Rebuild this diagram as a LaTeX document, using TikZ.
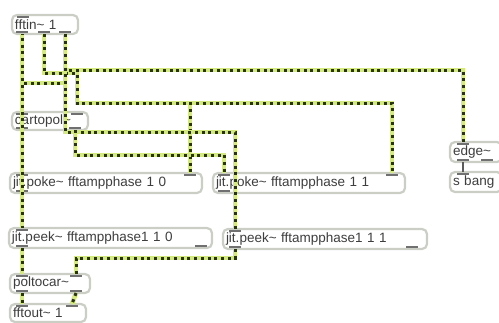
\documentclass[tikz,border=0pt]{standalone}
\usepackage{fontspec}
\setmainfont{Liberation Sans}
\definecolor{boxedge}{RGB}{202,206,196}
\definecolor{txt}{RGB}{62,62,62}
\definecolor{portc}{RGB}{112,112,112}
\definecolor{wirebase}{RGB}{212,234,128}
\definecolor{wiredot}{RGB}{40,52,14}
\tikzset{
  maxbox/.style={draw=boxedge, line width=2.2pt, rounded corners=5pt, fill=white,
    anchor=north west, outer sep=0pt, inner xsep=3pt, inner ysep=0pt,
    font=\fontsize{13.5}{14}\selectfont, text=txt, align=left},
  portbar/.style={draw=portc, line width=2pt},
  sigwire/.style={preaction={draw=wirebase, line width=4.8pt, solid},
    draw=wiredot, line width=3pt, dash pattern=on 3pt off 3.7pt},
  ctlwire/.style={draw=portc!80!black, line width=1.6pt},
}
\newcommand\pbar[2]{\draw[portbar] ([xshift=-6pt,yshift=#2]#1) -- ++(12,0);}
\begin{document}
\begin{tikzpicture}[x=1pt,y=-1pt]
\useasboundingbox (0,0) rectangle (499,322);
% boxes
\node[maxbox, text width=60pt, minimum height=19pt] (fftin) at (12,15) {fftin\textasciitilde{} 1};
\node[maxbox, text width=70pt, minimum height=18pt] (cartopol) at (12,112) {cartopol\textasciitilde};
\node[maxbox, text width=186pt, minimum height=20pt] (poke10) at (10,173) {jit.poke\textasciitilde{} fftampphase 1 0};
\node[maxbox, text width=186pt, minimum height=20pt] (poke11) at (213,173) {jit.poke\textasciitilde{} fftampphase 1 1};
\node[maxbox, text width=46pt, minimum height=20pt] (edge) at (450,142) {edge\textasciitilde};
\node[maxbox, text width=46pt, minimum height=20pt] (sbang) at (450,172) {s bang};
\node[maxbox, text width=197pt, minimum height=20pt] (peek10) at (9,228) {jit.peek\textasciitilde{} fftampphase1 1 0};
\node[maxbox, text width=198pt, minimum height=20pt] (peek11) at (223,229) {jit.peek\textasciitilde{} fftampphase1 1 1};
\node[maxbox, text width=74pt, minimum height=19pt] (poltocar) at (10,274) {poltocar\textasciitilde};
\node[maxbox, text width=70pt, minimum height=18pt] (fftout) at (10,304) {fftout\textasciitilde{} 1};
% ports
\coordinate (fftin-i1) at ([xshift=11pt]fftin.north west);
\coordinate (fftin-o1) at ([xshift=10pt]fftin.south west);
\coordinate (fftin-o2) at ([xshift=32pt]fftin.south west);
\coordinate (fftin-o3) at ([xshift=53pt]fftin.south west);
\coordinate (cartopol-i1) at ([xshift=10pt]cartopol.north west);
\coordinate (cartopol-i2) at ([xshift=65pt]cartopol.north west);
\coordinate (cartopol-o1) at ([xshift=10pt]cartopol.south west);
\coordinate (cartopol-o2) at ([xshift=63pt]cartopol.south west);
\coordinate (poke10-i1) at ([xshift=12pt]poke10.north west);
\coordinate (poke10-i2) at ([xshift=180pt]poke10.north west);
\coordinate (poke10-o1) at ([xshift=12pt]poke10.south west);
\coordinate (poke11-i1) at ([xshift=11pt]poke11.north west);
\coordinate (poke11-i2) at ([xshift=179pt]poke11.north west);
\coordinate (poke11-o1) at ([xshift=11pt]poke11.south west);
\coordinate (edge-i1) at ([xshift=13pt]edge.north west);
\coordinate (edge-o1) at ([xshift=13pt]edge.south west);
\coordinate (edge-o2) at ([xshift=37pt]edge.south west);
\coordinate (sbang-i1) at ([xshift=13pt]sbang.north west);
\coordinate (peek10-i1) at ([xshift=13pt]peek10.north west);
\coordinate (peek10-o1) at ([xshift=13pt]peek10.south west);
\coordinate (peek10-o2) at ([xshift=192pt]peek10.south west);
\coordinate (peek11-i1) at ([xshift=12pt]peek11.north west);
\coordinate (peek11-o1) at ([xshift=12pt]peek11.south west);
\coordinate (peek11-o2) at ([xshift=189pt]peek11.south west);
\coordinate (poltocar-i1) at ([xshift=12pt]poltocar.north west);
\coordinate (poltocar-i2) at ([xshift=66pt]poltocar.north west);
\coordinate (poltocar-o1) at ([xshift=12pt]poltocar.south west);
\coordinate (poltocar-o2) at ([xshift=66pt]poltocar.south west);
\coordinate (fftout-i1) at ([xshift=12pt]fftout.north west);
\coordinate (fftout-i2) at ([xshift=62pt]fftout.north west);
\foreach \p in {fftin-i1,cartopol-i1,cartopol-i2,poke10-i1,poke10-i2,poke11-i1,poke11-i2,edge-i1,sbang-i1,peek10-i1,peek11-i1,poltocar-i1,poltocar-i2,fftout-i1,fftout-i2}{\pbar{\p}{-1.6pt}}
\foreach \p in {fftin-o1,fftin-o2,fftin-o3,cartopol-o1,cartopol-o2,poke10-o1,poke11-o1,edge-o1,edge-o2,peek10-o1,peek10-o2,peek11-o1,peek11-o2,poltocar-o1,poltocar-o2}{\pbar{\p}{1.6pt}}
% wires
\draw[sigwire, dash phase=2.8pt] (fftin-o1) -- (cartopol-i1);
\draw[sigwire] (fftin-o2) -- (44,73) -- (77,73) -- (77,103) -- (392,103) -- (poke11-i2);
\draw[sigwire] (fftin-o2) -- (44,73) -- (77,73) -- (77,103) -- (190,103) -- (poke10-i2);
\draw[sigwire] (fftin-o3) -- (65,70) -- (463,70) -- (edge-i1);
\draw[sigwire] (fftin-o3) -- (65,83) -- (22,83) -- (peek10-i1);
\draw[sigwire] (fftin-o3) -- (65,132) -- (235,132) -- (peek11-i1);
\draw[sigwire, dash phase=5pt] (cartopol-o1) -- (poke10-i1);
\draw[sigwire] (cartopol-o2) -- (75,155) -- (224,155) -- (poke11-i1);
\draw[sigwire] (peek10-o1) -- (poltocar-i1);
\draw[sigwire] (peek11-o1) -- (235,258) -- (76,258) -- (poltocar-i2);
\draw[sigwire] (poltocar-o1) -- (fftout-i1);
\draw[sigwire] (poltocar-o2) -- (fftout-i2);
\draw[ctlwire] (edge-o1) -- (sbang-i1);
\end{tikzpicture}
\end{document}
